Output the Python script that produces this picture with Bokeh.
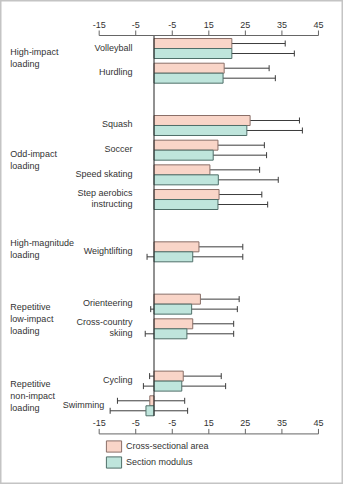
from bokeh.plotting import figure
from bokeh.models import Range1d, ColumnDataSource, Whisker, TeeHead, Legend, LegendItem
from bokeh.embed import file_html
from bokeh.resources import INLINE
from bokeh.core.properties import value

# ---------------- data ----------------
group_labels = ["High-impact\nloading", "Odd-impact\nloading", "High-magnitude\nloading",
                "Repetitive\nlow-impact\nloading", "Repetitive\nnon-impact\nloading"]
group_members = [["Volleyball", "Hurdling"],
                 ["Squash", "Soccer", "Speed skating", "Step aerobics\ninstructing"],
                 ["Weightlifting"],
                 ["Orienteering", "Cross-country\nskiing"],
                 ["Cycling", "Swimming"]]

csa = [21.3, 19.2, 26.3, 17.5, 15.3, 17.8, 12.3, 12.7, 10.6, 8.0, -1.15]
csa_low = [8.4, 8.0, 14.2, 6.0, 3.0, 7.1, 1.3, 2.5, 0.8, -1.2, -10.0]
csa_high = [35.9, 31.5, 39.8, 30.2, 28.9, 29.5, 24.3, 23.3, 21.8, 18.4, 8.4]

sm = [21.3, 18.9, 25.4, 16.2, 17.6, 17.5, 10.6, 10.3, 9.0, 7.6, -2.2]
sm_low = [6.6, 6.3, 11.5, 3.4, 3.3, 5.3, -1.9, -0.9, -2.4, -2.9, -12.0]
sm_high = [38.4, 33.2, 40.6, 30.8, 34.0, 31.1, 24.3, 22.8, 21.8, 19.6, 9.2]

tick_values = [-15, -5, 5, 15, 25, 35, 45]
tick_labels = ["-15", "-5", "-5", "15", "25", "35", "45"]
series_names = ["Cross-sectional area", "Section modulus"]

# ---------------- style / layout ----------------
PINK = "#f9d5c8"
PINK_LINE = "#8a6f68"
TEAL = "#bfe5dc"
TEAL_LINE = "#4f6f69"
TEXT = "#333333"
AXIS = "#666666"
FONT = "Liberation Sans"
GROUP_GAP = 1.12
BAR_H = 0.405
PX_X = 3.655   # px per x unit
PX_Y = 24.67   # px per slot

# category slot positions
cats, pos, group_pos = [], [], []
y = 0.0
for gi, members in enumerate(group_members):
    if gi > 0:
        y += 1 + GROUP_GAP
    start = y
    for mi, m in enumerate(members):
        if mi > 0:
            y += 1
        cats.append(m)
        pos.append(y)
    group_pos.append((start + y) / 2)

first, last = pos[0], pos[-1]
top_axis_y = first - 0.527
bottom_axis_y = last + 1.14
zero_end = last + 0.41
tick_len = 5 / PX_Y

p = figure(width=343, height=484,
           x_range=Range1d(-42.0, 51.85), y_range=Range1d(17.67, -1.946),
           min_border=0, toolbar_location=None, output_backend="svg",
           x_axis_location=None, y_axis_location=None)
p.grid.visible = False
p.outline_line_color = "#c4c4c4"
p.outline_line_width = 2
p.background_fill_color = "white"
p.border_fill_color = "white"

# bars
pink_y = [v - BAR_H / 2 for v in pos]
teal_y = [v + BAR_H / 2 for v in pos]
r1 = p.hbar(y=pink_y, left=0, right=csa, height=BAR_H,
            fill_color=PINK, line_color=PINK_LINE, line_width=1)
r2 = p.hbar(y=teal_y, left=0, right=sm, height=BAR_H,
            fill_color=TEAL, line_color=TEAL_LINE, line_width=1)

# error bars
for ys, lo, hi in ((pink_y, csa_low, csa_high), (teal_y, sm_low, sm_high)):
    src = ColumnDataSource(dict(base=ys, lower=lo, upper=hi))
    w = Whisker(source=src, base="base", lower="lower", upper="upper",
                dimension="width", line_color="#3c3c3c", line_width=1,
                upper_head=TeeHead(size=6, line_color="#3c3c3c", line_width=1),
                lower_head=TeeHead(size=6, line_color="#3c3c3c", line_width=1))
    p.add_layout(w)

# zero line
p.segment(x0=[0], y0=[top_axis_y], x1=[0], y1=[zero_end], line_color="#222222", line_width=1)

# axes (top and bottom)
for ay in (top_axis_y, bottom_axis_y):
    p.segment(x0=[tick_values[0]], y0=[ay], x1=[tick_values[-1]], y1=[ay],
              line_color=AXIS, line_width=1)
    p.segment(x0=tick_values, y0=[ay] * len(tick_values), x1=tick_values,
              y1=[ay - tick_len] * len(tick_values), line_color=AXIS, line_width=1)
    p.text(x=tick_values, y=[ay] * len(tick_values), text=tick_labels,
           text_font=value(FONT), text_font_size="9px", text_color=TEXT,
           text_align="center", text_baseline="alphabetic", y_offset=-11)

# category labels
lab_x = [min(-21.5 / PX_X, min(a, b) - 6 / PX_X) for a, b in zip(csa_low, sm_low)]
p.text(x=lab_x, y=pos, text=cats, text_font=value(FONT), text_font_size="9px",
       text_color=TEXT, text_align="right", text_baseline="middle",
       text_line_height=1.1, y_offset=-1)

# group labels
g_off = [-3 + 6 * (g.count("\n") - 1) for g in group_labels]
p.text(x=[-39.3] * len(group_labels), y=group_pos, text=group_labels,
       text_font=value(FONT), text_font_size="9px", text_color=TEXT,
       text_align="left", text_baseline="middle", text_line_height=1.2, y_offset=g_off)

# legend
legend = Legend(items=[LegendItem(label=series_names[0], renderers=[r1]),
                       LegendItem(label=series_names[1], renderers=[r2])],
                location=(104, 15), orientation="vertical",
                glyph_width=19, glyph_height=14, label_height=14, spacing=2,
                label_standoff=3, padding=0, margin=0,
                border_line_color=None, background_fill_alpha=0,
                label_text_font=FONT, label_text_font_size="9px",
                label_text_color=TEXT)
p.add_layout(legend)

open("out.html", "w").write(file_html(p, INLINE))
